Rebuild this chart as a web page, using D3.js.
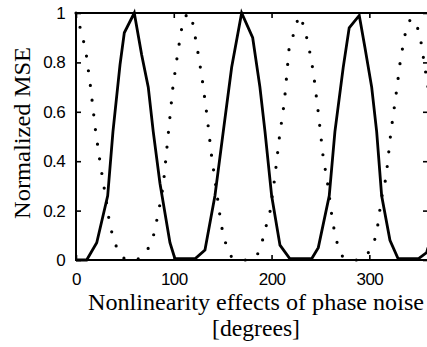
<!DOCTYPE html>
<html lang="en">

<head>
    <meta charset="UTF-8">
    <title>Normalized MSE vs phase noise nonlinearity</title>
    <script src="https://d3js.org/d3.v7.min.js"></script>
    <style>
        body {
            margin: 0;
            background: #fff;
        }
        .title {
            font-family: "Liberation Serif", "Times New Roman", Times, serif;
        }
    </style>
</head>

<body>
    <div id="chart"></div>
    <script>
        // Solid curve: vertices [degrees, normalized MSE]
        const solidDeg = [0, 10.9, 21.2, 32.4, 37.8, 45.0, 49.4, 59.6, 67.2, 73.9, 79.0, 85.9, 96.1, 101.2,
            121.7, 131.9, 142.1, 150.6, 159.2, 169.4, 180.7, 188.1, 193.3, 200.1, 208.6, 218.8,
            241.0, 247.8, 259.0, 264.8, 273.3, 279.4, 289.7, 295.5, 302.4, 307.5, 312.6, 321.1, 329.5,
            350.0, 358.6, 360];
        const solidMse = [0, 0, 0.07, 0.26, 0.52, 0.79, 0.92, 1.0, 0.83, 0.70, 0.52, 0.31, 0.07, 0.005,
            0.005, 0.04, 0.26, 0.52, 0.78, 1.0, 0.90, 0.70, 0.52, 0.26, 0.06, 0.005,
            0.005, 0.05, 0.26, 0.52, 0.78, 0.94, 0.99, 0.86, 0.70, 0.52, 0.26, 0.08, 0.005,
            0.005, 0.03, 0.05];

        // Dotted curve
        const dottedDeg = [0, 5, 9.9, 14.9, 19.8, 24.8, 29.7, 34.7, 39.6, 44.6, 49.6, 54.5, 59.5, 64.4,
            69.4, 74.3, 79.3, 84.2, 89.2, 94.1, 99.1, 104.1, 109, 114, 118.9, 123.9, 128.8, 133.8,
            138.7, 143.7, 148.6, 153.6, 158.6, 163.5, 168.5, 173.4, 178.4, 183.3, 188.3, 193.2,
            198.2, 203.2, 208.1, 213.1, 218, 223, 227.9, 232.9, 237.8, 242.8, 247.7, 252.7, 257.7,
            262.6, 267.6, 272.5, 277.5, 282.4, 287.4, 292.3, 297.3, 302.2, 307.2, 312.2, 317.1,
            322.1, 327, 332, 336.9, 341.9, 346.8, 351.8, 356.8, 360];
        const dottedMse = [1.0, 0.93, 0.85, 0.70, 0.53, 0.39, 0.27, 0.14, 0.07, 0.025, 0.005, 0, 0, 0.005,
            0.02, 0.05, 0.10, 0.19, 0.30, 0.50, 0.70, 0.84, 0.96, 1.0, 0.97, 0.86, 0.74, 0.59,
            0.42, 0.28, 0.14, 0.06, 0.015, 0.005, 0, 0, 0.005, 0.01, 0.04, 0.12,
            0.19, 0.33, 0.50, 0.64, 0.86, 0.92, 0.99, 0.95, 0.87, 0.76, 0.60, 0.42, 0.30,
            0.15, 0.06, 0.015, 0.005, 0, 0, 0.005, 0.02, 0.05, 0.10, 0.245, 0.335,
            0.52, 0.66, 0.815, 0.92, 0.975, 0.97, 0.91, 0.78, 0.70];

        const xTicks = [0, 100, 200, 300];
        const yTicks = [0, 0.2, 0.4, 0.6, 0.8, 1];

        const width = 427;
        const height = 347;
        const margin = { top: 13, right: 0, bottom: 87, left: 76 };
        const plotRight = 428; // right frame edge sits just past the picture

        const svg = d3.select("#chart").append("svg")
            .attr("width", width)
            .attr("height", height)
            .attr("viewBox", [0, 0, width, height]);

        const x = d3.scaleLinear().domain([0, 360]).range([margin.left, plotRight]);
        const y = d3.scaleLinear().domain([0, 1]).range([height - margin.bottom, margin.top]);

        const line = d3.line()
            .x(d => x(d[0]))
            .y(d => y(d[1]));

        // dotted curve first, solid on top
        svg.append("path")
            .datum(dottedDeg.map((d, i) => [d, dottedMse[i]]))
            .attr("fill", "none")
            .attr("stroke", "#000")
            .attr("stroke-width", 3.2)
            .attr("stroke-linecap", "round")
            .attr("stroke-dasharray", "0 14.8")
            .attr("d", line);

        svg.append("path")
            .datum(solidDeg.map((d, i) => [d, solidMse[i]]))
            .attr("fill", "none")
            .attr("stroke", "#000")
            .attr("stroke-width", 2.8)
            .attr("stroke-linejoin", "miter")
            .attr("d", line);

        // frame
        svg.append("rect")
            .attr("x", x(0))
            .attr("y", y(1))
            .attr("width", x(360) - x(0))
            .attr("height", y(0) - y(1))
            .attr("fill", "none")
            .attr("stroke", "#000")
            .attr("stroke-width", 2);

        const tickFont = "17px 'Liberation Sans', Arial, sans-serif";

        // bottom axis, ticks pointing in
        svg.append("g")
            .attr("transform", `translate(0,${y(0)})`)
            .call(d3.axisBottom(x).tickValues(xTicks).tickSize(-5).tickPadding(13).tickFormat(d3.format("d")));
        // left axis
        svg.append("g")
            .attr("transform", `translate(${x(0)},0)`)
            .call(d3.axisLeft(y).tickValues(yTicks).tickSize(-5).tickPadding(11).tickFormat(d => d === 0 || d === 1 ? d : d.toFixed(1)));
        // top and right ticks, no labels
        svg.append("g")
            .attr("transform", `translate(0,${y(1)})`)
            .call(d3.axisTop(x).tickValues(xTicks).tickSize(-5).tickFormat(""));
        svg.append("g")
            .attr("transform", `translate(${x(360)},0)`)
            .call(d3.axisRight(y).tickValues(yTicks).tickSize(-5).tickFormat(""));

        svg.selectAll(".domain").remove();
        svg.selectAll(".tick line").attr("stroke", "#000").attr("stroke-width", 1.6);
        svg.selectAll(".tick text").style("font", tickFont).style("letter-spacing", "-0.6px").attr("fill", "#000");

        // axis titles
        svg.append("text")
            .attr("class", "title")
            .attr("x", 256)
            .attr("y", 310)
            .attr("text-anchor", "middle")
            .attr("font-size", 23)
            .attr("textLength", 336)
            .attr("lengthAdjust", "spacingAndGlyphs")
            .text("Nonlinearity effects of phase noise");
        svg.append("text")
            .attr("class", "title")
            .attr("x", 256)
            .attr("y", 336)
            .attr("text-anchor", "middle")
            .attr("font-size", 23)
            .attr("textLength", 88)
            .attr("lengthAdjust", "spacingAndGlyphs")
            .text("[degrees]");
        svg.append("text")
            .attr("class", "title")
            .attr("transform", "translate(30,133) rotate(-90)")
            .attr("text-anchor", "middle")
            .attr("font-size", 24)
            .attr("textLength", 172)
            .attr("lengthAdjust", "spacingAndGlyphs")
            .text("Normalized MSE");
    </script>
</body>

</html>
